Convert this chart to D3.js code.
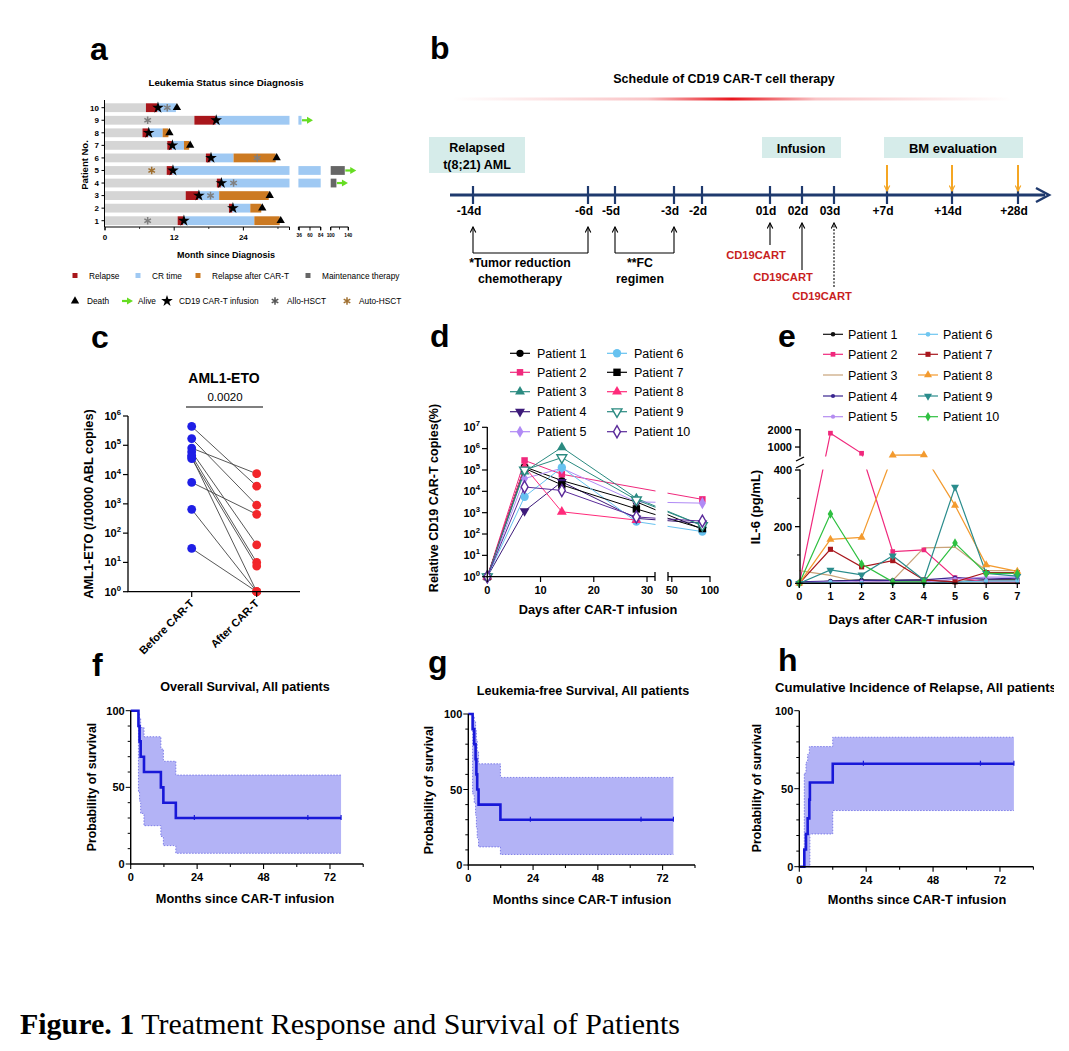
<!DOCTYPE html>
<html><head><meta charset="utf-8">
<script src="https://cdn.jsdelivr.net/npm/d3@7"></script>
<style>body{margin:0;background:#fff}svg{display:block}text{font-family:"Liberation Sans",Arial,Helvetica,sans-serif}</style>
</head><body><svg id="fig" width="1069" height="1051"></svg>
<script>
// ================= DATA =================
// Panel a: leukemia status (months since diagnosis)
const aPatients   = [1,2,3,4,5,6,7,8,9,10];
const aRelapse    = [12.6,21.5,14.0,19.4,10.7,17.5,10.8,6.5,15.5,7.1];
const aInfusion   = [13.6,22.1,16.2,20.1,11.7,18.3,11.6,7.5,19.2,9.1];
const aCREnd      = [25.9,25.2,19.8,84,84,22.3,13.7,10.0,41,12.3];
const aDeath      = [30.3,27.1,28.4,null,null,29.6,14.6,11.0,null,12.3];
const aMaintStart = [null,null,null,100,100,null,null,null,null,null];
const aMaintEnd   = [null,null,null,113,132,null,null,null,null,null];
const aAlive      = [null,null,null,113,132,null,null,null,41,null];
const aAllo       = [7.4,null,18.3,22.3,null,26.4,null,null,7.4,10.8];
const aAuto       = [null,null,null,null,8.1,null,null,null,null,null];
const aTickLabels = [[0,12,24],[36,60,84],[100,140]];
const aLegendRow1 = ["Relapse","CR time","Relapse after CAR-T","Maintenance therapy"];
const aLegendRow2 = ["Death","Alive","CD19 CAR-T infusion","Allo-HSCT","Auto-HSCT"];

// Panel b: schedule
const bDays   = [-14,-6,-5,-3,-2,1,2,3,7,14,28];
const bLabels = ["-14d","-6d","-5d","-3d","-2d","01d","02d","03d","+7d","+14d","+28d"];
const bBM     = [7,14,28];
const bCART   = [1,2,3];

// Panel c: AML1-ETO before / after
const cGroups = ["Before CAR-T","After CAR-T"];
const cBefore = [4.4e5,1.7e5,8e4,6e4,4.5e4,3.5e4,5.4e3,650,30,4e4];
const cAfter  = [4e3,900,1.07e4,40,10,7.5,440,1,1,1];
const cPValue = "0.0020";

// Panel d: CAR-T copies
const dDays = [0,7,14,28,90];
const dNames = ["Patient 1","Patient 2","Patient 3","Patient 4","Patient 5","Patient 6","Patient 7","Patient 8","Patient 9","Patient 10"];
const dValues = [
  [1,1.4e5,3.2e4,3.2e3,1.7e2],
  [1,2.8e5,6.3e4,null,4.2e3],
  [1,8.3e4,1.15e6,4.7e3,2.5e2],
  [1,1.2e3,2.8e4,5.4e2,3.2e2],
  [1,4e4,1.2e5,3.2e3,2.8e3],
  [1,5.6e3,1.3e5,3.8e2,1.3e2],
  [1,1.2e5,2e4,1.5e3,1.8e2],
  [1,1.4e5,1.1e3,4.5e2,null],
  [1,1e5,3.8e5,4e3,2.5e2],
  [1,1.6e4,1.1e4,6.3e2,4e2]
];

// Panel e: IL-6
const eDays = [0,1,2,3,4,5,6,7];
const eValues = [
  [0,8,12,10,12,5,12,12],
  [0,1800,640,112,118,20,5,5],
  [45,28,2,10,125,128,45,45],
  [5,8,10,10,12,20,15,18],
  [2,5,5,5,5,15,22,22],
  [0,3,0,0,0,5,8,8],
  [0,120,58,80,12,5,38,38],
  [0,155,162,530,545,275,65,42],
  [0,47,30,97,12,340,35,25],
  [0,245,68,5,5,142,35,35]
];

// Panels f, g, h: Kaplan-Meier
const fTimes = [0,2.8,3.2,3.6,4.8,10.9,11.8,16.3,76];
const fSurv  = [100,90,80,70,60,50,40,30,30];
const fLower = [100,47,41,33,25,18,12,7,7];
const fUpper = [100,98.5,95,89,83,75,67,58,58];
const fCensor = [23,64,76];
const gTimes = [0,1.6,2.2,2.7,3.0,3.3,3.8,11.9,76];
const gSurv  = [100,90,80,70,60,50,40,30,30];
const gLower = [100,47,41,33,25,18,12,7,7];
const gUpper = [100,98.5,95,89,83,75,67,58,58];
const gCensor = [23,64,76];
const hTimes = [0,1.8,2.4,3.0,3.6,3.8,12.0,77];
const hCIR   = [0,11,21,31,43,54,66,66];
const hLower = [0,0,0,0,0,21,36,36];
const hUpper = [0,60,67,72,77,77,83,83];
const hCensor = [23,65,77];

// ================= DRAWING =================
const svg = d3.select("#fig");
svg.append("rect").attr("width",1069).attr("height",1051).attr("fill","#fff");
const defs = svg.append("defs");
function mk(id, color){
  defs.append("marker").attr("id",id).attr("viewBox","0 0 10 10").attr("refX",9).attr("refY",5)
    .attr("markerWidth",7).attr("markerHeight",7).attr("orient","auto").attr("markerUnits","userSpaceOnUse")
    .append("path").attr("d","M1,1 L9,5 L1,9").attr("fill","none").attr("stroke",color).attr("stroke-width",1.6);
}
mk("arrBlack","#000"); mk("arrOrange","#f5a623");
defs.append("clipPath").attr("id","pageclip").append("rect").attr("x",0).attr("y",0).attr("width",1054).attr("height",1051);

function txt(g,x,y,s,o={}){
  const t=g.append("text").attr("x",x).attr("y",y).text(s)
    .attr("font-size",o.size||10).attr("font-weight",o.bold?"bold":"normal")
    .attr("text-anchor",o.anchor||"start").attr("fill",o.fill||"#000");
  if(o.rotate!==undefined) t.attr("transform",`rotate(${o.rotate},${x},${y})`);
  return t;
}
function pow10(g,x,y,e,size){
  const t=g.append("text").attr("x",x).attr("y",y).attr("text-anchor","end").attr("font-weight","bold").attr("font-size",size);
  t.append("tspan").text("10");
  t.append("tspan").text(e).attr("dy",-size*0.45).attr("font-size",size*0.7);
  return t;
}
function line(g,x1,y1,x2,y2,c="#000",w=1.3){
  return g.append("line").attr("x1",x1).attr("y1",y1).attr("x2",x2).attr("y2",y2).attr("stroke",c).attr("stroke-width",w);
}
function panelLabel(s,x,y){ txt(svg,x,y,s,{size:32,bold:true}); }
panelLabel("a",90,60); panelLabel("b",430,59); panelLabel("c",91,348); panelLabel("d",430,347);
panelLabel("e",778,347); panelLabel("f",92,676); panelLabel("g",428,673); panelLabel("h",778,671);

// ---------- Panel a ----------
const ga = svg.append("g");
const aCol = {grey:"#d5d5d5",relapse:"#a8161b",cr:"#9fc9f3",post:"#cc7a22",maint:"#666",alive:"#66dd22",allo:"#7f7f7f",auto:"#a07030"};
const aPieces=[{d:[0,32],r:[105,289.5]},{d:[34,84],r:[298.4,320.7]},{d:[100,140],r:[330.7,348.3]}]
  .map(p=>({...p,s:d3.scaleLinear().domain(p.d).range(p.r)}));
function aPos(v){for(const p of aPieces) if(v>=p.d[0]&&v<=p.d[1]) return p.s(v); return null;}
const aY = d3.scalePoint().domain(aPatients.slice().reverse()).range([107.7,220.7]);
function aBar(pt,s,e,color){
  aPieces.forEach(p=>{const a=Math.max(s,p.d[0]),b=Math.min(e,p.d[1]);
    if(b>a) ga.append("rect").attr("x",p.s(a)).attr("width",p.s(b)-p.s(a)).attr("y",aY(pt)-4.4).attr("height",8.8).attr("fill",color);});
}
txt(ga,226,86,"Leukemia Status since Diagnosis",{size:9.8,bold:true,anchor:"middle"});
aPatients.forEach((pt,i)=>{
  aBar(pt,0,aRelapse[i],aCol.grey);
  aBar(pt,aRelapse[i],aInfusion[i],aCol.relapse);
  aBar(pt,aInfusion[i],aCREnd[i],aCol.cr);
  if(aDeath[i]!==null && aDeath[i]>aCREnd[i]) aBar(pt,aCREnd[i],aDeath[i],aCol.post);
  if(aMaintStart[i]!==null) aBar(pt,aMaintStart[i],aMaintEnd[i],aCol.maint);
});
const star=d3.symbol().type(d3.symbolStar).size(42)();
const tri=d3.symbol().type(d3.symbolTriangle).size(30)();
const ast=d3.symbol().type(d3.symbolAsterisk).size(40)();
function aAlivePath(g,x,y){
  g.append("line").attr("x1",x).attr("y1",y).attr("x2",x+7).attr("y2",y).attr("stroke",aCol.alive).attr("stroke-width",2.2);
  g.append("path").attr("d",`M${x+5},${y-3.5} L${x+11},${y} L${x+5},${y+3.5}Z`).attr("fill",aCol.alive);
}
aPatients.forEach((pt,i)=>{
  const y=aY(pt);
  if(aAllo[i]!==null) ga.append("path").attr("d",ast).attr("transform",`translate(${aPos(aAllo[i])},${y})`).attr("stroke",aCol.allo).attr("stroke-width",1.5).attr("fill","none");
  if(aAuto[i]!==null) ga.append("path").attr("d",ast).attr("transform",`translate(${aPos(aAuto[i])},${y})`).attr("stroke",aCol.auto).attr("stroke-width",1.5).attr("fill","none");
  ga.append("path").attr("d",star).attr("transform",`translate(${aPos(aInfusion[i])+0.5},${y})`).attr("fill","#000");
  if(aDeath[i]!==null) ga.append("path").attr("d",tri).attr("transform",`translate(${aPos(aDeath[i])+1},${y})`).attr("fill","#000");
  if(aAlive[i]!==null) aAlivePath(ga,aPos(aAlive[i])+0.5,y);
});
// axes a
line(ga,104.5,100,104.5,227,"#000",1);
aPatients.forEach(pt=>{line(ga,101.5,aY(pt),104.5,aY(pt),"#000",1);
  txt(ga,99,aY(pt)+2.8,String(pt),{size:8,bold:true,anchor:"end"});});
aPieces.forEach((p,k)=>{
  line(ga,p.r[0],227,p.r[1],227,"#000",1.1);
  line(ga,p.r[1],227,p.r[1],230,"#000",1); line(ga,p.r[0],227,p.r[0],230,"#000",1);
  aTickLabels[k].forEach(v=>{line(ga,p.s(v),227,p.s(v),230.5,"#000",1);
    txt(ga,p.s(v),k===0?240:236.5,String(v),{size:k===0?8:4.8,bold:true,anchor:"middle"});});
});
[6,18,30].forEach(v=>line(ga,aPieces[0].s(v),227,aPieces[0].s(v),229,"#000",0.8));
line(ga,aPieces[2].s(120),227,aPieces[2].s(120),229.5,"#000",0.8);
txt(ga,88,165,"Patient No.",{size:9.5,bold:true,anchor:"middle",rotate:-90});
txt(ga,226,258,"Month since Diagnosis",{size:9,bold:true,anchor:"middle"});
// legend a
const aL1x=[75,138,198,308], aL1c=[aCol.relapse,aCol.cr,aCol.post,aCol.maint];
aLegendRow1.forEach((s,i)=>{ga.append("rect").attr("x",aL1x[i]-2.5).attr("y",273).attr("width",5).attr("height",5).attr("fill",aL1c[i]);
  txt(ga,aL1x[i]+14,278.8,s,{size:8.3});});
const aL2x=[75,127,167,275,347];
aLegendRow2.forEach((s,i)=>{
  const x=aL2x[i],y=301;
  if(i===0) ga.append("path").attr("d",tri).attr("transform",`translate(${x},${y})`).attr("fill","#000");
  if(i===1) aAlivePath(ga,x-5,y);
  if(i===2) ga.append("path").attr("d",star).attr("transform",`translate(${x},${y})`).attr("fill","#000");
  if(i===3) ga.append("path").attr("d",ast).attr("transform",`translate(${x},${y})`).attr("stroke","#555").attr("stroke-width",1.5);
  if(i===4) ga.append("path").attr("d",ast).attr("transform",`translate(${x},${y})`).attr("stroke",aCol.auto).attr("stroke-width",1.5);
  txt(ga,x+(i===1?11:12),y+3,s,{size:8.3});
});

// ---------- Panel b ----------
const gb = svg.append("g");
const bX = d3.scaleLinear().domain(bDays).range([473,588,615,674,702,770,802,834,887,952,1018]);
txt(gb,724,83,"Schedule of CD19 CAR-T cell therapy",{size:12.5,bold:true,anchor:"middle"});
const grad=defs.append("linearGradient").attr("id","redg");
[[0,0],[0.35,0.25],[0.5,1],[0.65,0.25],[1,0]].forEach(([o,a])=>grad.append("stop").attr("offset",o).attr("stop-color","#e8141c").attr("stop-opacity",a));
gb.append("rect").attr("x",452).attr("y",97.5).attr("width",560).attr("height",3).attr("fill","url(#redg)");
const boxC="#d6ecea";
gb.append("rect").attr("x",429).attr("y",137).attr("width",96).attr("height",36).attr("fill",boxC);
txt(gb,477,152,"Relapsed",{size:12.5,bold:true,anchor:"middle"});
txt(gb,477,168.5,"t(8;21) AML",{size:12.5,bold:true,anchor:"middle"});
gb.append("rect").attr("x",762).attr("y",137).attr("width",79).attr("height",21).attr("fill",boxC);
txt(gb,801,152.5,"Infusion",{size:12.5,bold:true,anchor:"middle"});
gb.append("rect").attr("x",884).attr("y",137).attr("width",139).attr("height",21).attr("fill",boxC);
txt(gb,953,152.5,"BM evaluation",{size:13,bold:true,anchor:"middle"});
line(gb,450,195,1045,195,"#1f3a6e",3);
gb.append("path").attr("d","M1036,188 L1049,195 L1036,202").attr("fill","none").attr("stroke","#1f3a6e").attr("stroke-width",2.5);
bDays.forEach((d,i)=>{line(gb,bX(d),186,bX(d),204,"#1f3a6e",2.2);
  txt(gb,bX(d)-4,215,bLabels[i],{size:12,bold:true,anchor:"middle"});});
bBM.forEach(d=>gb.append("line").attr("x1",bX(d)).attr("y1",165).attr("x2",bX(d)).attr("y2",191).attr("stroke","#f5a623").attr("stroke-width",2).attr("marker-end","url(#arrOrange)"));
function bracket(d0,d1){
  [d0,d1].forEach(d=>gb.append("line").attr("x1",bX(d)).attr("y1",253).attr("x2",bX(d)).attr("y2",227).attr("stroke","#000").attr("stroke-width",1.1).attr("marker-end","url(#arrBlack)"));
  line(gb,bX(d0),253,bX(d1),253,"#000",1.1);
}
bracket(-14,-6); bracket(-5,-3);
txt(gb,520,267,"*Tumor reduction",{size:12.3,bold:true,anchor:"middle"});
txt(gb,520,283,"chemotherapy",{size:12.3,bold:true,anchor:"middle"});
txt(gb,640,267,"**FC",{size:12.3,bold:true,anchor:"middle"});
txt(gb,640,283,"regimen",{size:12.3,bold:true,anchor:"middle"});
const bArrEnd=[245,270,287], bTxtX=[756,783,822], bTxtY=[259,281,300];
bCART.forEach((d,i)=>{
  const l=gb.append("line").attr("x1",bX(d)).attr("y1",bArrEnd[i]).attr("x2",bX(d)).attr("y2",223).attr("stroke","#000").attr("stroke-width",1.1).attr("marker-end","url(#arrBlack)");
  if(i===2) l.attr("stroke-dasharray","2,1.5");
  txt(gb,bTxtX[i],bTxtY[i],"CD19CART",{size:11.2,bold:true,anchor:"middle",fill:"#c81e1e"});
});

// ---------- Panel c ----------
const gc = svg.append("g");
const cY = d3.scaleLog().domain([1,1e6]).range([591.7,416]);
const cX = d3.scalePoint().domain(cGroups).range([191.7,256.7]);
txt(gc,224,383,"AML1-ETO",{size:14,bold:true,anchor:"middle"});
txt(gc,225,401,cPValue,{size:11.5,anchor:"middle"});
line(gc,186,407,263,407,"#000",1.2);
cBefore.forEach((v,i)=>line(gc,cX(cGroups[0]),cY(v),cX(cGroups[1]),cY(cAfter[i]),"#444",0.9));
cBefore.forEach(v=>gc.append("circle").attr("cx",cX(cGroups[0])).attr("cy",cY(v)).attr("r",4.4).attr("fill","#1f1fe6"));
cAfter.forEach(v=>gc.append("circle").attr("cx",cX(cGroups[1])).attr("cy",cY(v)).attr("r",4.4).attr("fill","#f2262a"));
line(gc,128,416,128,592,"#000",1.3); line(gc,127.4,591.7,300,591.7,"#000",1.3);
d3.range(0,7).forEach(e=>{line(gc,123,cY(10**e),128,cY(10**e),"#000",1.2); pow10(gc,121,cY(10**e)+4,String(e),11);});
cGroups.forEach(gr=>{line(gc,cX(gr),591.7,cX(gr),597,"#000",1.2);
  txt(gc,cX(gr)+3,604,gr,{size:11,bold:true,anchor:"end",rotate:-45});});
txt(gc,93,504,"AML1-ETO (/10000 ABL copies)",{size:12.8,bold:true,anchor:"middle",rotate:-90});

// ---------- Panel d ----------
const gd = svg.append("g");
const dY = d3.scaleLog().domain([1,1e7]).range([576.7,427.3]);
const dX = d3.scaleLinear().domain([0,31.5,45,100]).range([487.3,655,668,710]);
const dStyle=[{c:"#000",s:"circle"},{c:"#f0287c",s:"square"},{c:"#2a8a80",s:"tri"},{c:"#3d1a7a",s:"tridown"},{c:"#b08af5",s:"diamond"},
  {c:"#66c2f0",s:"circle",big:true},{c:"#000",s:"square",big:true},{c:"#ff2a7a",s:"tri"},{c:"#2a8a80",s:"tridown",open:true},{c:"#5a2a9a",s:"diamond",open:true}];
const shp={circle:d3.symbolCircle,square:d3.symbolSquare,tri:d3.symbolTriangle,tridown:d3.symbolTriangle,diamond:d3.symbolDiamond};
function marker(g,x,y,st,size){
  const p=g.append("path").attr("d",d3.symbol().type(shp[st.s]).size(size)()).attr("transform",`translate(${x},${y})`+(st.s==="tridown"?" rotate(180)":""));
  if(st.open) p.attr("fill","#fff").attr("stroke",st.c).attr("stroke-width",1.4); else p.attr("fill",st.c);
}
const dLine=d3.line().x(d=>dX(d[0])).y(d=>dY(d[1]));
dValues.forEach((vals,i)=>{
  const pts=dDays.map((d,j)=>[d,vals[j]]).filter(p=>p[1]!==null);
  gd.append("path").attr("d",dLine(pts)).attr("fill","none").attr("stroke",dStyle[i].c).attr("stroke-width",1);
});
gd.append("rect").attr("x",dX(31.5)+0.5).attr("y",420).attr("width",dX(45)-dX(31.5)-1).attr("height",156).attr("fill","#fff");
dValues.forEach((vals,i)=>dDays.forEach((d,j)=>{if(vals[j]!==null) marker(gd,dX(d),dY(vals[j]),dStyle[i],dStyle[i].big?55:42);}));
line(gd,487.3,427,487.3,577.3,"#000",1.3);
d3.range(0,8).forEach(e=>{line(gd,482,dY(10**e),487.3,dY(10**e),"#000",1.2); pow10(gd,480,dY(10**e)+4,String(e),11);});
line(gd,486.7,576.7,dX(31.5),576.7,"#000",1.3); line(gd,dX(45),576.7,710.5,576.7,"#000",1.3);
[dX(31.5),dX(45)].forEach(x=>line(gd,x,572,x,581,"#000",1.3));
[0,10,20,30,50,100].forEach(v=>{line(gd,dX(v),576.7,dX(v),582,"#000",1.2); txt(gd,dX(v),594,String(v),{size:11,bold:true,anchor:"middle"});});
txt(gd,598,614,"Days after CAR-T infusion",{size:12.8,bold:true,anchor:"middle"});
txt(gd,438,498,"Relative CD19 CAR-T copies(%)",{size:12.5,bold:true,anchor:"middle",rotate:-90});
const dLegX=[520,617], dLegY=[353.3,372.3,391.7,411.7,431.7];
dNames.forEach((n,i)=>{const x=dLegX[Math.floor(i/5)], y=dLegY[i%5];
  line(gd,x-10,y,x+10,y,dStyle[i].c,1.2); marker(gd,x,y,dStyle[i],dStyle[i].big?55:42);
  txt(gd,x+17,y+4.5,n,{size:12.5});});

// ---------- Panel e ----------
const ge = svg.append("g");
const eX = d3.scaleLinear().domain([0,7]).range([799.3,1017.3]);
const eY = d3.scaleLinear().domain([0,400,500,2000]).range([583.3,470,455.7,429.7]);
const eStyle=[{c:"#111",s:"circle"},{c:"#f0287c",s:"square"},{c:"#c9a47a",s:null},{c:"#3a2590",s:"circle"},{c:"#b48cf0",s:"circle"},
  {c:"#6ec6f0",s:"circle"},{c:"#a8161c",s:"square"},{c:"#f39a2e",s:"tri"},{c:"#2a8c8c",s:"tridown"},{c:"#2ec040",s:"diamond"}];
const eLine=d3.line().x((d,j)=>eX(eDays[j])).y(d=>eY(d));
eValues.forEach((vals,i)=>ge.append("path").attr("d",eLine(vals)).attr("fill","none").attr("stroke",eStyle[i].c).attr("stroke-width",1.2));
ge.append("rect").attr("x",801).attr("y",456.5).attr("width",222).attr("height",13).attr("fill","#fff");
const eSize=i=>[16,22,0,14,14,18,26,28,28,26][i];
eValues.forEach((vals,i)=>{ if(eStyle[i].s) vals.forEach((v,j)=>marker(ge,eX(eDays[j]),eY(v),eStyle[i],eSize(i)));});
line(ge,800,429,800,456.5,"#000",1.4); line(ge,800,469.5,800,583.9,"#000",1.4);
line(ge,796,461,804,457,"#000",1.3); line(ge,796,468,804,464,"#000",1.3);
[0,200,400,1000,2000].forEach(v=>{line(ge,795,eY(v),800,eY(v),"#000",1.3); txt(ge,792,eY(v)+4,String(v),{size:11,bold:true,anchor:"end"});});
[100,300].forEach(v=>line(ge,797,eY(v),800,eY(v),"#000",1));
line(ge,799.3,583.3,1020,583.3,"#000",1.4);
eDays.forEach(d=>{line(ge,eX(d),583.3,eX(d),588,"#000",1.2); txt(ge,eX(d),600,String(d),{size:11,bold:true,anchor:"middle"});});
txt(ge,908,624,"Days after CAR-T infusion",{size:12.8,bold:true,anchor:"middle"});
txt(ge,760,507,"IL-6 (pg/mL)",{size:13,bold:true,anchor:"middle",rotate:-90});
const eLegX=[833,928], eLegY=[334.3,354.3,375,396,416.7];
dNames.forEach((n,i)=>{const x=eLegX[Math.floor(i/5)], y=eLegY[i%5];
  line(ge,x-10,y,x+10,y,eStyle[i].c,1.2); if(eStyle[i].s) marker(ge,x,y,eStyle[i],eSize(i));
  txt(ge,x+15,y+4.5,n,{size:12.5});});

// ---------- Panels f, g, h ----------
function km(o){
  const g=svg.append("g");
  const x=d3.scaleLinear().domain([0,84]).range([o.x0,o.x84]);
  const y=d3.scaleLinear().domain([0,100]).range([o.y0,o.y100]);
  const pts=o.times.map((t,i)=>({t,e:o.est[i],lo:o.lo[i],hi:o.hi[i]}));
  g.append("path").attr("d",d3.area().curve(d3.curveStepAfter).x(d=>x(d.t)).y0(d=>y(d.lo)).y1(d=>y(d.hi))(pts)).attr("fill","#b3b3f6");
  ["lo","hi"].forEach(k=>g.append("path").attr("d",d3.line().curve(d3.curveStepAfter).x(d=>x(d.t)).y(d=>y(d[k]))(pts))
    .attr("fill","none").attr("stroke","#7e7ee8").attr("stroke-width",1).attr("stroke-dasharray","1.5,1.5"));
  g.append("path").attr("d",d3.line().curve(d3.curveStepAfter).x(d=>x(d.t)).y(d=>y(d.e))(pts)).attr("fill","none").attr("stroke","#1818d8").attr("stroke-width",2.6);
  o.censor.forEach(c=>{let v=o.est[0]; o.times.forEach((t,i)=>{if(t<=c) v=o.est[i];}); line(g,x(c),y(v)-3,x(c),y(v)+2,"#1818d8",1.2);});
  line(g,o.x0,o.y100,o.x0,o.y0+0.6,"#000",1.4); line(g,o.x0-0.6,o.y0,o.x84,o.y0,"#000",1.4);
  d3.range(0,101,10).forEach(v=>line(g,o.x0-(v%50===0?5:3),y(v),o.x0,y(v),"#000",1));
  [0,50,100].forEach(v=>txt(g,o.x0-6,y(v)+4,String(v),{size:11,bold:true,anchor:"end"}));
  d3.range(0,85,12).forEach(v=>line(g,x(v),o.y0,x(v),o.y0+(v%24===0?5:3),"#000",1.1));
  [0,24,48,72].forEach(v=>txt(g,x(v),o.y0+17,String(v),{size:11,bold:true,anchor:"middle"}));
  const tt=txt(g,o.tx,o.ty,o.title,{size:o.tsize||12.6,bold:true,anchor:o.tanchor||"middle"});
  tt.attr("clip-path","url(#pageclip)");
  txt(g,o.ylx,o.yly,"Probability of survival",{size:12.3,bold:true,anchor:"middle",rotate:-90});
  txt(g,o.xlx,o.xly,"Months since CAR-T infusion",{size:12.8,bold:true,anchor:"middle"});
  return g;
}
km({x0:130.7,x84:363.2,y0:864,y100:710.7,times:fTimes,est:fSurv,lo:fLower,hi:fUpper,censor:fCensor,
  title:"Overall Survival, All patients",tx:245,ty:691,ylx:96,yly:787,xlx:245,xly:903});
km({x0:468.3,x84:695,y0:865,y100:714,times:gTimes,est:gSurv,lo:gLower,hi:gUpper,censor:gCensor,
  title:"Leukemia-free Survival, All patients",tx:583,ty:695,ylx:433,yly:790,xlx:582,xly:904});
km({x0:799.3,x84:1033.4,y0:866.7,y100:710.7,times:hTimes,est:hCIR,lo:hLower,hi:hUpper,censor:hCensor,
  title:"Cumulative Incidence of Relapse, All patients",tx:775,ty:692,tanchor:"start",tsize:13.1,ylx:761,yly:788,xlx:917,xly:904});

// ---------- Caption ----------
const cap=svg.append("text").attr("x",20).attr("y",1034).attr("font-size",29)
  .attr("textLength",660).attr("lengthAdjust","spacingAndGlyphs").style("font-family",'"Liberation Serif","Times New Roman",serif');
cap.append("tspan").text("Figure. 1").attr("font-weight","bold");
cap.append("tspan").text(" Treatment Response and Survival of Patients");
</script></body></html>
